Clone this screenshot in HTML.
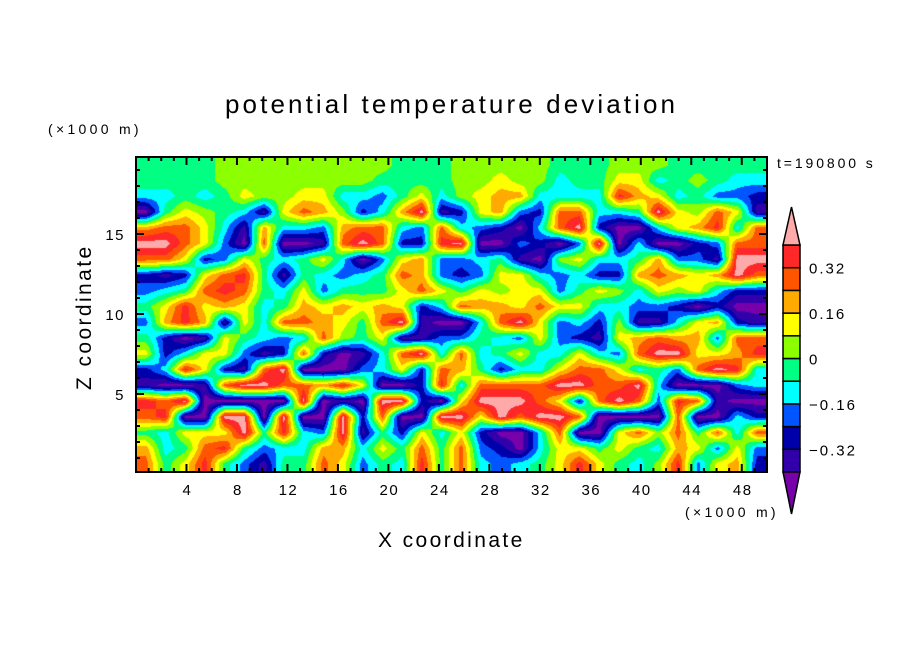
<!DOCTYPE html>
<html><head><meta charset="utf-8">
<style>
body{margin:0;background:#fff;width:904px;height:654px;overflow:hidden;position:relative;font-family:"Liberation Sans","DejaVu Sans",sans-serif;}
#plot{position:absolute;left:136px;top:157px;}
svg{position:absolute;left:0;top:0;}
</style></head>
<body>
<canvas id="plot" width="631" height="315"></canvas>
<svg id="ov" width="904" height="654"></svg>
<script>
// data: potential temperature deviation, in units of 0.08 K (contour interval), rows from top (high z) to bottom
const UNIT = 0.08;
const nCols = 32;
const nRows = 20;
const xTicks = [4,8,12,16,20,24,28,32,36,40,44,48];
const yTicks = [5,10,15];
const cbLabels = ["0.32","0.16","0","\u22120.16","\u22120.32"];
const cbLabelVals = [0.32,0.16,0,-0.16,-0.32];
const levels = [-0.4,-0.32,-0.24,-0.16,-0.08,0,0.08,0.16,0.24,0.32,0.4];
const row0 = [-1,-1,-1,-1,0,0,0,0,0,0,0,0,0,-1,-1,-1,0,0,0,0,0,-1,-1,-1,0,0,0,-1,-1,-1,-1,-1];
const row1 = [-1,-1,-1,-1,0,0,0,0,0,0,0,0,-1,-1,-1,-1,0,0,1,0,0,-2,-1,-1,1,1,-2,-1,0,-1,-2,-2];
const row2 = [-2,-2,-1,-2,-1,1,0,0,1,1,-2,-2,-3,-1,1,-2,0,1,2,2,-2,-2,-2,-2,4,2,1,-2,-1,-3,-3,-4];
const row3 = [-6,-1,1,0,-1,-2,-5,1,3,2,0,-4,-2,2,5,-5,-4,1,2,-3,-4,3,3,-2,-2,-1,5,1,0,3,1,-5];
const row4 = [2,3,3,1,-2,-5,2,-2,-2,-3,2,3,3,-2,-3,3,-2,-3,-4,-6,-2,3,5,-4,-6,-6,-2,1,2,4,-2,3];
const row5 = [5,5,3,1,-3,-6,3,-6,-6,-5,3,5,3,-4,-4,4,5,-6,-6,-3,-4,-6,-3,5,-6,-2,-6,-6,-4,-3,3,3];
const row6 = [3,3,1,-4,-3,1,-1,-2,-1,1,-2,-6,-3,1,2,-3,-3,-2,-1,-5,-6,0,1,-2,-2,-1,2,-3,-3,-5,5,5];
const row7 = [-4,-5,-4,1,3,4,-1,-5,-1,-2,-3,-2,-1,3,2,-3,-4,-3,1,1,-2,-3,-2,-4,-4,2,3,2,1,2,5,3];
const row8 = [-3,-2,-1,3,4,3,-1,-2,1,-3,-1,-1,-1,1,3,1,-1,1,0,1,1,-3,-1,1,0,-2,1,0,1,-2,-4,-4];
const row9 = [-1,1,4,1,2,1,-2,-1,2,1,2,1,2,1,-4,-2,3,2,2,1,3,1,1,-2,-2,-3,-3,-4,-6,-4,-6,-6];
const row10 = [-3,2,4,2,-5,1,-2,3,3,2,1,-1,3,5,-5,-6,-6,-2,3,5,1,-3,-2,-4,0,-5,-5,-2,1,2,-4,-5];
const row11 = [-1,-4,-6,-5,1,-1,-2,-3,-2,3,0,-1,1,-5,-5,-3,-3,-1,-2,-3,1,-3,-4,-5,1,2,3,2,2,-3,3,3];
const row12 = [1,-4,-2,1,1,-3,-5,-4,3,-4,-6,-5,-2,3,5,-2,3,-2,-1,1,-2,-2,1,-2,-3,3,5,5,1,1,2,4];
const row13 = [-4,-2,4,1,-4,-5,3,5,-6,-6,-6,-3,-2,1,-4,3,2,-1,-4,-2,-2,1,3,3,1,-2,-1,-3,3,5,4,-2];
const row14 = [-5,-6,-6,-5,3,5,5,3,3,2,4,1,-6,-6,-4,4,-2,3,3,3,3,5,5,3,3,5,-2,-6,-6,-6,-3,-2];
const row15 = [4,3,5,-6,-6,-6,-6,-6,5,-6,-5,-6,5,5,-4,-6,1,5,5,5,3,1,-4,3,5,3,-3,4,3,-5,-6,-6];
const row16 = [3,4,-6,-6,5,5,-6,5,-6,-6,5,-4,3,-6,-6,5,5,1,5,3,5,5,3,-6,-6,-6,-6,3,-6,-6,-2,-4];
const row17 = [-1,-2,1,1,1,5,-1,4,-2,-3,5,-5,-1,-4,1,-2,1,-4,-6,-6,-2,3,-6,-6,1,3,0,3,-1,3,-2,3];
const row18 = [2,-2,-1,3,4,-1,-3,-2,-2,2,2,-2,1,-1,3,-1,3,-3,-4,-6,-2,1,1,-1,1,-1,-2,2,1,-3,1,-3];
const row19 = [3,-1,1,4,-1,-3,-5,-1,-1,3,1,-3,-1,-2,4,-1,3,-2,-3,-2,-1,1,4,1,-1,-2,0,4,-3,1,2,-4];
const grid = [row0,row1,row2,row3,row4,row5,row6,row7,row8,row9,row10,row11,row12,row13,row14,row15,row16,row17,row18,row19];

const colors = ["#7800aa","#3200aa","#0000aa","#0055ff","#00ffff","#00ff82","#8cff00","#ffff00","#ffaa00","#ff5500","#ff2828","#ffaaaa"];
const X0=136, X1=767, Y0=157, Y1=472;
const xMin=0, xMax=50, zBot=(474-472)/16, zTop=(474-157)/16;
function xScale(k){return X0+(k-xMin)/(xMax-xMin)*(X1-X0);}
function yScale(z){return 474-16*z;}
function xInv(px){return xMin+(px-X0)/(X1-X0)*(xMax-xMin);}
function yInv(py){return (474-py)/16;}
function colorFor(v){let i=0;while(i<levels.length&&v>=levels[i])i++;return colors[i];}

// draw contour field
(function(){
  const cv=document.getElementById('plot');const ctx=cv.getContext('2d');
  const img=ctx.createImageData(631,315);
  const cache={};
  for(let py=0;py<315;py++){
    const z=yInv(Y0+py+0.5);
    let gy=(zTop-z)/(zTop-zBot)*nRows-0.5; gy=Math.max(0,Math.min(nRows-1,gy));
    const r0=Math.floor(gy), r1=Math.min(nRows-1,r0+1), fy=gy-r0;
    for(let px=0;px<631;px++){
      const k=xInv(X0+px+0.5);
      let gx=(k-xMin)/(xMax-xMin)*nCols-0.5; gx=Math.max(0,Math.min(nCols-1,gx));
      const c0=Math.floor(gx), c1=Math.min(nCols-1,c0+1), fx=gx-c0;
      const a=grid[r0][c0]*(1-fx)+grid[r0][c1]*fx;
      const b=grid[r1][c0]*(1-fx)+grid[r1][c1]*fx;
      const v=(a*(1-fy)+b*fy+0.5)*UNIT;
      const col=colorFor(v);
      let rgb=cache[col]; if(!rgb){rgb=[parseInt(col.substr(1,2),16),parseInt(col.substr(3,2),16),parseInt(col.substr(5,2),16)];cache[col]=rgb;}
      const o=(py*631+px)*4; img.data[o]=rgb[0];img.data[o+1]=rgb[1];img.data[o+2]=rgb[2];img.data[o+3]=255;
    }
  }
  ctx.putImageData(img,0,0);
})();

const NS='http://www.w3.org/2000/svg';
const svg=document.getElementById('ov');
function el(tag,attrs,text){const e=document.createElementNS(NS,tag);for(const a in attrs)e.setAttribute(a,attrs[a]);if(text!==undefined)e.textContent=text;svg.appendChild(e);return e;}
const tf='"Liberation Sans","DejaVu Sans",sans-serif';

let t;
t=el('text',{x:225,y:113,'font-size':26,'font-family':tf,fill:'#000','letter-spacing':3.1},'potential temperature deviation');


t=el('text',{x:48,y:134,'font-size':14,'font-family':tf,'letter-spacing':3.3},'(\u00d71000 m)');


t=el('text',{x:685,y:517,'font-size':14,'font-family':tf,'letter-spacing':3.3},'(\u00d71000 m)');


t=el('text',{x:777,y:168,'font-size':14,'font-family':tf,'letter-spacing':2.9},'t=190800 s');


t=el('text',{x:378,y:547,'font-size':21,'font-family':tf,'letter-spacing':2.4},'X coordinate');


t=el('text',{x:0,y:0,'font-size':21,'font-family':tf,'letter-spacing':2.4,transform:'translate(91,390) rotate(-90)'},'Z coordinate');



// ticks
for(let k=1;k<50;k++){
  const x=xScale(k); const major=(k%4===0); const L=major?8:4;
  const a=el('line',{x1:x,x2:x,y1:Y1,y2:Y1-L,stroke:'#000','stroke-width':2});
  
  
  const b=el('line',{x1:x,x2:x,y1:Y0,y2:Y0+L,stroke:'#000','stroke-width':2});
  
  
}
xTicks.forEach(k=>{
  const l=el('text',{x:xScale(k)+1,y:495,'text-anchor':'middle','font-size':15,'font-family':tf,'letter-spacing':1.5},String(k));
  
  
});
for(let z=1;z<20;z++){
  const y=yScale(z); if(y<=Y0)continue; const major=(z%5===0); const L=major?8:4;
  const a=el('line',{x1:X0,x2:X0+L,y1:y,y2:y,stroke:'#000','stroke-width':2});
  
  
  const b=el('line',{x1:X1,x2:X1-L,y1:y,y2:y,stroke:'#000','stroke-width':2});
  
  
}
yTicks.forEach(z=>{
  const l=el('text',{x:125,y:yScale(z)+6,'text-anchor':'end','font-size':15,'font-family':tf,'letter-spacing':1.5},String(z));
  
  
});
t=el('rect',{x:X0,y:Y0,width:X1-X0,height:Y1-Y0,fill:'none',stroke:'#000','stroke-width':2});



// colorbar
const cbX=783, cbW=17, cbTop=245, cbBot=472;
const cbStep=(cbBot-cbTop)/10;
function cbY(v){return cbTop+(0.4-v)/0.08*cbStep;}
for(let i=1;i<=10;i++){
  const vHi=levels[i];
  const r=el('rect',{x:cbX,y:cbY(vHi),width:cbW,height:cbStep,fill:colors[i],stroke:'#000','stroke-width':1.5});
  
  
}
t=el('polygon',{points:`${cbX},${cbTop} ${cbX+cbW},${cbTop} ${cbX+cbW/2},${cbTop-38}`,fill:colors[11],stroke:'#000','stroke-width':1.5});


t=el('polygon',{points:`${cbX},${cbBot} ${cbX+cbW},${cbBot} ${cbX+cbW/2},${cbBot+42}`,fill:colors[0],stroke:'#000','stroke-width':1.5});


cbLabels.forEach((s,i)=>{
  const l=el('text',{x:809,y:cbY(cbLabelVals[i])+6,'font-size':15,'font-family':tf,'letter-spacing':2},s);
  
  
});
</script>
</body></html>
